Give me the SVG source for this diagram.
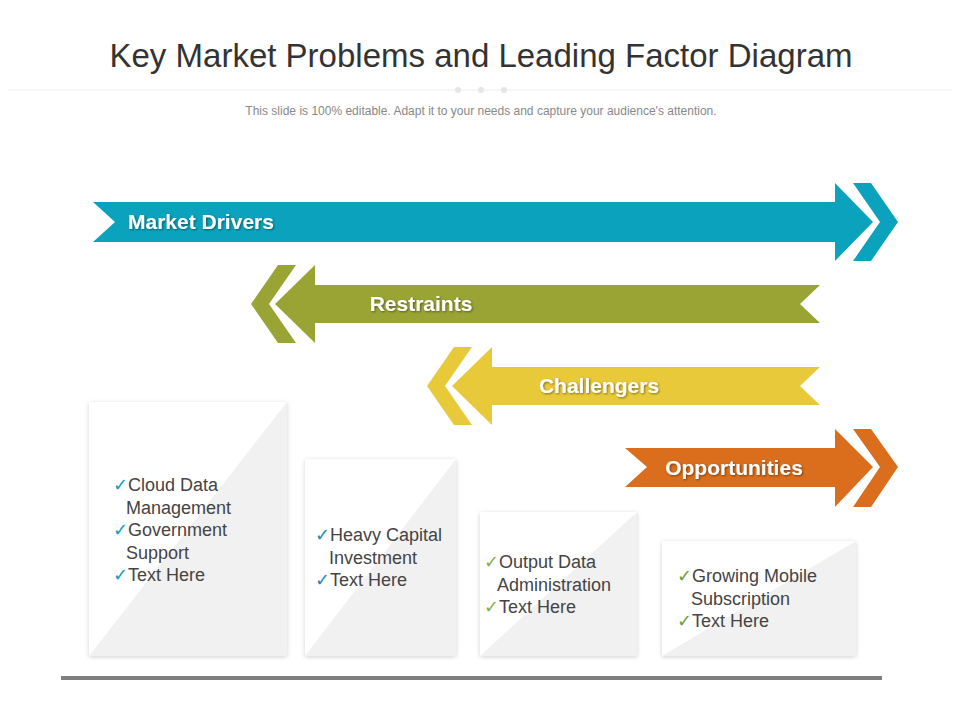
<svg xmlns="http://www.w3.org/2000/svg" width="960" height="720" viewBox="0 0 960 720">
<style>
.t{font-family:"Liberation Sans Narrow","Liberation Sans",Arial,sans-serif}
.lbl{font-family:"Liberation Sans Narrow","Liberation Sans",Arial,sans-serif;font-weight:bold;font-size:21px;fill:#fff;filter:url(#ts)}
.item{font-family:"Liberation Sans Narrow","Liberation Sans",Arial,sans-serif;font-size:18px;fill:#444}
.box{fill:#fff;filter:url(#bs)}
.tri{fill:#f1f1f1}
</style>
<defs>
<filter id="ts" x="-10%" y="-30%" width="120%" height="160%"><feDropShadow dx="1" dy="1" stdDeviation="0.8" flood-color="#000" flood-opacity="0.45"/></filter>
<filter id="bs" x="-10%" y="-10%" width="120%" height="120%"><feDropShadow dx="0" dy="1" stdDeviation="2" flood-color="#000" flood-opacity="0.18"/></filter>
</defs>
<rect width="960" height="720" fill="#fff"/>
<g id="header">
<text class="t" x="481" y="67" text-anchor="middle" font-size="34" fill="#333" textLength="743" lengthAdjust="spacingAndGlyphs">Key Market Problems and Leading Factor Diagram</text>
<line x1="8" y1="90" x2="952" y2="90" stroke="#eeeeee" stroke-width="1"/>
<circle cx="458" cy="90" r="3" fill="#e6e6e6"/><circle cx="481" cy="90" r="3" fill="#e6e6e6"/><circle cx="504" cy="90" r="3" fill="#e6e6e6"/>
<text class="t" x="481" y="115" text-anchor="middle" font-size="12" fill="#888">This slide is 100% editable. Adapt it to your needs and capture your audience's attention.</text>
</g>
<g id="connectors">
<g id="market-drivers">
<polygon fill="#0aa2bc" points="93,202 835,202 835,183 873,222 835,261 835,242 93,242 115,222"/>
<polygon fill="#0aa2bc" points="853,183 871,183 898,222 871,261 853,261 880,222"/>
<text class="lbl" x="128" y="229">Market Drivers</text>
</g>
<g id="restraints">
<polygon fill="#9aa434" points="820,285 315,285 315,265 275,304 315,343 315,323 820,323 800,304"/>
<polygon fill="#9aa434" points="296,265 278,265 251,304 278,343 296,343 269,304"/>
<text class="lbl" x="421" y="311" text-anchor="middle">Restraints</text>
</g>
<g id="challengers">
<polygon fill="#e8c93a" points="820,367 492,367 492,347 452,386 492,425 492,405 820,405 800,386"/>
<polygon fill="#e8c93a" points="472,347 454,347 427,386 454,425 472,425 445,386"/>
<text class="lbl" x="599" y="393" text-anchor="middle">Challengers</text>
</g>
<g id="opportunities">
<polygon fill="#da6e1d" points="625,448 835,448 835,429 873,467 835,507 835,487 625,487 647,467"/>
<polygon fill="#da6e1d" points="853,429 871,429 898,467 871,507 853,507 880,467"/>
<text class="lbl" x="734" y="475" text-anchor="middle">Opportunities</text>
</g>
</g>
<g id="box1">
<rect class="box" x="89" y="402" width="198" height="254"/>
<polygon class="tri" points="89,656 287,402 287,656"/>
<text class="item"><tspan x="113" y="491"><tspan fill="#0aa2bc">✓</tspan>Cloud Data</tspan><tspan x="126" y="514">Management</tspan><tspan x="113" y="536"><tspan fill="#0aa2bc">✓</tspan>Government</tspan><tspan x="126" y="559">Support</tspan><tspan x="113" y="581"><tspan fill="#0aa2bc">✓</tspan>Text Here</tspan></text>
</g>
<g id="box2">
<rect class="box" x="305" y="459" width="151" height="197"/>
<polygon class="tri" points="305,656 456,459 456,656"/>
<text class="item"><tspan x="315" y="541"><tspan fill="#1f8bb8">✓</tspan>Heavy Capital</tspan><tspan x="329" y="564">Investment</tspan><tspan x="315" y="586"><tspan fill="#1f8bb8">✓</tspan>Text Here</tspan></text>
</g>
<g id="box3">
<rect class="box" x="480" y="512" width="157" height="144"/>
<polygon class="tri" points="480,656 637,512 637,656"/>
<text class="item"><tspan x="484" y="568"><tspan fill="#8aae4a">✓</tspan>Output Data</tspan><tspan x="497" y="591">Administration</tspan><tspan x="484" y="613"><tspan fill="#8aae4a">✓</tspan>Text Here</tspan></text>
</g>
<g id="box4">
<rect class="box" x="662" y="541" width="194" height="115"/>
<polygon class="tri" points="662,656 856,541 856,656"/>
<text class="item"><tspan x="677" y="582"><tspan fill="#6aa03a">✓</tspan>Growing Mobile</tspan><tspan x="691" y="605">Subscription</tspan><tspan x="677" y="627"><tspan fill="#6aa03a">✓</tspan>Text Here</tspan></text>
</g>
<line x1="61" y1="678" x2="882" y2="678" stroke="#7f7f7f" stroke-width="4"/>
</svg>
